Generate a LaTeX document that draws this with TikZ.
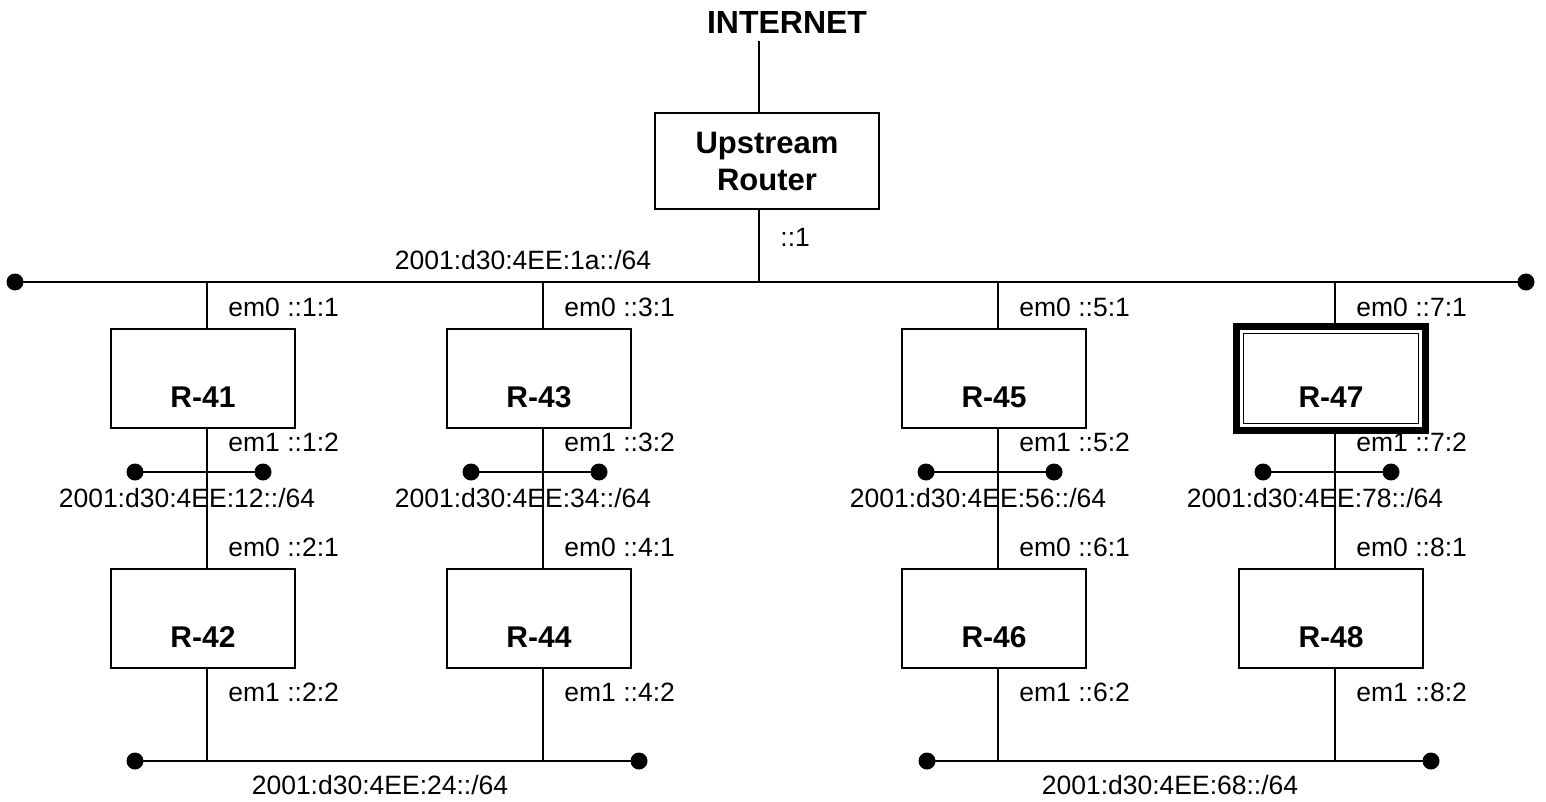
\documentclass[tikz,border=0pt]{standalone}
\usepackage{fontspec}
\setmainfont{Liberation Sans}
\begin{document}
\begin{tikzpicture}[x=0.5pt,y=-0.5pt,
  wire/.style={line width=1.2pt},
  box/.style={draw,line width=0.65pt,minimum width=92pt,minimum height=49.5pt,inner sep=0pt},
  rlab/.style={font=\fontsize{15}{18}\selectfont\bfseries,inner sep=0pt},
  lab/.style={font=\fontsize{13.25}{16}\selectfont,inner sep=0pt},
  dot/.style={circle,fill,inner sep=0pt,minimum size=8.5pt}]
\useasboundingbox (0,0) rectangle (1546,802);

% top part
\node[font=\fontsize{16}{19}\selectfont\bfseries,inner sep=0pt] (internet) at (787,22) {INTERNET};
\node[draw,line width=0.65pt,minimum width=112pt,minimum height=48pt,inner sep=0pt,
      align=center,font=\fontsize{15.5}{18.5}\selectfont\bfseries] (up) at (767,161) {Upstream\\Router};
\node[lab,anchor=west] (upaddr) at (780,237) {::1};
\node[lab] (netmain) at (523,260) {2001:d30:4EE:1a::/64};
\coordinate (inet) at (759,41);
\coordinate (jup) at (759,282);
\coordinate (busL) at (15,282);
\coordinate (busR) at (1526,282);
\draw[wire] (inet) -- (inet |- up.north);
\draw[wire] (jup |- up.south) -- (jup);
\draw[wire] (busL) -- (busR);
\node[dot] (dbusL) at (busL) {};
\node[dot] (dbusR) at (busR) {};

% router columns
\foreach \vx/\p/\q/\s in {207/1/2/12, 543/3/4/34, 998/5/6/56, 1335/7/8/78} {
  \pgfmathtruncatemacro{\bx}{\vx-4}
  \pgfmathtruncatemacro{\ra}{40+\p}
  \pgfmathtruncatemacro{\rb}{40+\q}
  \node[lab,anchor=west] (ea\p) at (\vx+21,307) {em0 ::\p:1};
  \node[lab,anchor=west] (eb\p) at (\vx+21,442) {em1 ::\p:2};
  \node[lab,anchor=west] (ea\q) at (\vx+21,547) {em0 ::\q:1};
  \node[lab,anchor=west] (eb\q) at (\vx+21,692) {em1 ::\q:2};
  \node[lab] (n\s) at (\vx-20,498) {2001:d30:4EE:\s::/64};
  \node[box] (r\ra) at (\bx,378.5) {};
  \node[box] (r\rb) at (\bx,618.5) {};
  \node[rlab] (t\ra) at (\bx,397) {R-\ra};
  \node[rlab] (t\rb) at (\bx,637) {R-\rb};
  \coordinate (j\ra) at (\vx,282);
  \coordinate (sl\s) at (\vx-72,472);
  \coordinate (sr\s) at (\vx+56,472);
  \coordinate (k\rb) at (\vx,761);
  \draw[wire] (j\ra) -- (j\ra |- r\ra.north);
  \draw[wire] (j\ra |- r\ra.south) -- (j\ra |- r\rb.north);
  \draw[wire] (j\ra |- r\rb.south) -- (k\rb);
  \draw[wire] (sl\s) -- (sr\s);
  \node[dot] (dl\s) at (sl\s) {};
  \node[dot] (dr\s) at (sr\s) {};
}

% R-47 highlighted frame
\draw[line width=3.75pt] ([shift={(-2,-2)}]r47.north west) rectangle ([shift={(2,2)}]r47.south east);
\draw[line width=0.6pt] ([shift={(5,5)}]r47.north west) rectangle ([shift={(-5,-5)}]r47.south east);

% bottom buses
\coordinate (b1L) at (135,761);
\coordinate (b1R) at (639,761);
\coordinate (b2L) at (927,761);
\coordinate (b2R) at (1431,761);
\draw[wire] (b1L) -- (b1R);
\draw[wire] (b2L) -- (b2R);
\node[dot] (db1L) at (b1L) {};
\node[dot] (db1R) at (b1R) {};
\node[dot] (db2L) at (b2L) {};
\node[dot] (db2R) at (b2R) {};
\node[lab] (n24) at (380,785) {2001:d30:4EE:24::/64};
\node[lab] (n68) at (1170,785) {2001:d30:4EE:68::/64};
\end{tikzpicture}
\end{document}
